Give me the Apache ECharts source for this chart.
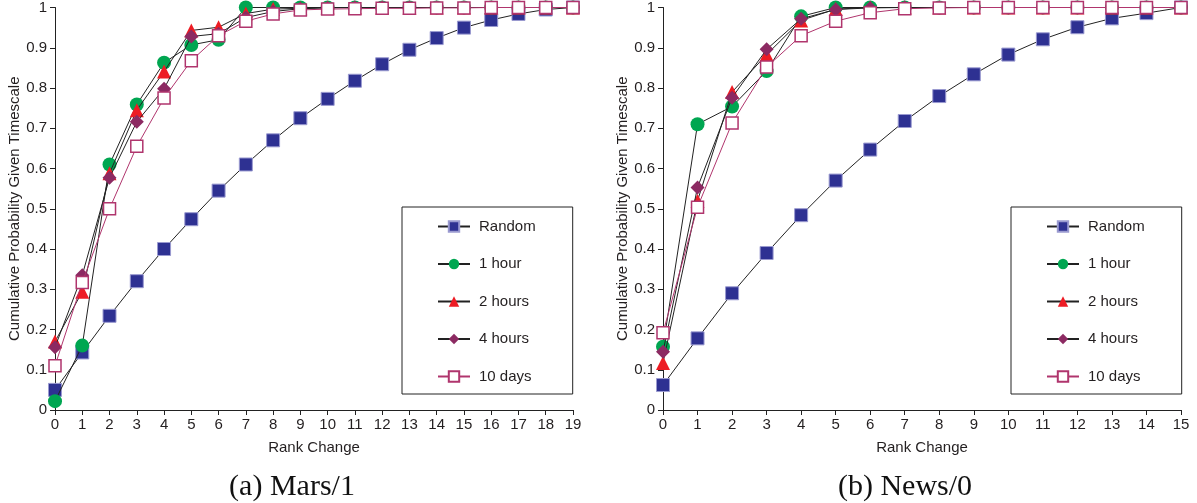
<!DOCTYPE html>
<html>
<head>
<meta charset="utf-8">
<script src="https://cdn.jsdelivr.net/npm/echarts@6/dist/echarts.min.js"></script>
<style>
  html, body { margin: 0; padding: 0; background: #fff; }
  #chart { width: 1197px; height: 503px; }
</style>
</head>
<body>
<div id="chart"></div>
<script>
// panel (a) Mars/1, rank change 0..19
const rankA = [0,1,2,3,4,5,6,7,8,9,10,11,12,13,14,15,16,17,18,19];
const randomA = [0.05,0.143,0.234,0.32,0.40,0.474,0.545,0.61,0.67,0.725,0.773,0.818,0.859,0.895,0.924,0.95,0.969,0.984,0.995,1.0];
const hour1A = [0.022,0.16,0.61,0.759,0.863,0.907,0.92,1.0,1.0,1.0,1.0,1.0,1.0,1.0,1.0,1.0,1.0,1.0,1.0,1.0];
const hour2A = [0.17,0.294,0.588,0.745,0.841,0.943,0.951,0.985,0.996,0.998,1.0,1.0,1.0,1.0,1.0,1.0,1.0,1.0,1.0,1.0];
const hour4A = [0.156,0.335,0.577,0.716,0.798,0.928,0.935,0.975,0.99,0.997,0.999,1.0,1.0,1.0,1.0,1.0,1.0,1.0,1.0,1.0];
const day10A = [0.11,0.317,0.50,0.655,0.775,0.868,0.93,0.966,0.984,0.994,0.996,0.997,0.998,0.998,0.999,0.999,1.0,1.0,1.0,1.0];

// panel (b) News/0, rank change 0..15
const rankB = [0,1,2,3,4,5,6,7,8,9,10,11,12,13,14,15];
const randomB = [0.062,0.178,0.29,0.39,0.484,0.57,0.647,0.718,0.78,0.834,0.883,0.921,0.951,0.973,0.986,1.0];
const hour1B = [0.157,0.71,0.754,0.842,0.978,1.0,1.0,1.0,1.0,1.0,1.0,1.0,1.0,1.0,1.0,1.0];
const hour2B = [0.117,0.52,0.79,0.883,0.968,0.996,1.0,1.0,1.0,1.0,1.0,1.0,1.0,1.0,1.0,1.0];
const hour4B = [0.145,0.553,0.776,0.896,0.972,0.995,0.999,1.0,1.0,1.0,1.0,1.0,1.0,1.0,1.0,1.0];
const day10B = [0.192,0.504,0.713,0.852,0.93,0.966,0.987,0.997,0.999,1.0,1.0,1.0,1.0,1.0,1.0,1.0];

const seriesNames = ['Random', '1 hour', '2 hours', '4 hours', '10 days'];
const subtitles = ['(a) Mars/1', '(b) News/0'];

const FONT = '"Liberation Sans", Arial, sans-serif';
const TXT = '#231f20';

const looks = [
  { symbol: 'rect', size: 13, item: { color: '#2e3192', borderColor: '#9a9ad0', borderWidth: 1 }, line: '#222' },
  { symbol: 'circle', size: 14, item: { color: '#00a651' }, line: '#222' },
  { symbol: 'triangle', size: 14, item: { color: '#ed1c24' }, line: '#222' },
  { symbol: 'diamond', size: 14, item: { color: '#8c2a62' }, line: '#222' },
  { symbol: 'rect', size: 12, item: { color: '#fff', borderColor: '#b0356d', borderWidth: 1.5 }, line: '#b0356d' }
];

function pairs(xs, ys) {
  return xs.map(function (x, i) { return [x, ys[i]]; });
}

function makeSeries(idx, xs, sets) {
  return sets.map(function (ys, k) {
    const lk = looks[k];
    return {
      name: seriesNames[k],
      type: 'line',
      xAxisIndex: idx,
      yAxisIndex: idx,
      data: pairs(xs, ys),
      symbol: lk.symbol,
      symbolSize: lk.size,
      itemStyle: lk.item,
      lineStyle: { color: lk.line, width: 1 },
      animation: false,
      z: 2 + k
    };
  });
}

function xAx(idx, max) {
  return {
    type: 'value', gridIndex: idx, min: 0, max: max, interval: 1,
    name: 'Rank Change', nameLocation: 'middle', nameGap: 30,
    nameTextStyle: { fontFamily: FONT, fontSize: 15, color: TXT },
    axisLine: { lineStyle: { color: '#222', width: 1 } },
    axisTick: { show: true, length: 5, lineStyle: { color: '#222' } },
    axisLabel: { fontFamily: FONT, fontSize: 15, color: TXT, margin: 7 },
    splitLine: { show: false }
  };
}

function yAx(idx) {
  return {
    type: 'value', gridIndex: idx, min: 0, max: 1, interval: 0.1,
    name: 'Cumulative Probability Given Timescale', nameLocation: 'middle', nameGap: 32,
    nameTextStyle: { fontFamily: FONT, fontSize: 15, color: TXT },
    axisLine: { show: true, lineStyle: { color: '#222', width: 1 } },
    axisTick: { show: true, length: 5, lineStyle: { color: '#222' } },
    axisLabel: { fontFamily: FONT, fontSize: 15, color: TXT, margin: 8 },
    splitLine: { show: false }
  };
}

function legendAt(left) {
  return {
    left: left, top: 207, orient: 'vertical',
    data: seriesNames,
    itemWidth: 32, itemHeight: 13, itemGap: 22.5,
    padding: [12, 37, 10, 35],
    borderColor: '#222', borderWidth: 1, backgroundColor: '#fff',
    textStyle: { fontFamily: FONT, fontSize: 15, color: TXT, padding: [0, 0, 0, 4] },
    selectedMode: false
  };
}

const chart = echarts.init(document.getElementById('chart'), null, { renderer: 'canvas' });
chart.setOption({
  backgroundColor: '#fff',
  animation: false,
  grid: [
    { left: 55, top: 7, width: 518, height: 403 },
    { left: 663, top: 7, width: 518, height: 403 }
  ],
  xAxis: [xAx(0, 19), xAx(1, 15)],
  yAxis: [yAx(0), yAx(1)],
  legend: [legendAt(402), legendAt(1011)],
  graphic: [
    { type: 'text', x: 292, y: 487, style: { text: subtitles[0], font: '30px "Liberation Serif", "Times New Roman", serif', fill: '#111', textAlign: 'center', textVerticalAlign: 'middle' } },
    { type: 'text', x: 905, y: 487, style: { text: subtitles[1], font: '30px "Liberation Serif", "Times New Roman", serif', fill: '#111', textAlign: 'center', textVerticalAlign: 'middle' } }
  ],
  series: makeSeries(0, rankA, [randomA, hour1A, hour2A, hour4A, day10A])
    .concat(makeSeries(1, rankB, [randomB, hour1B, hour2B, hour4B, day10B]))
});
</script>
</body>
</html>
